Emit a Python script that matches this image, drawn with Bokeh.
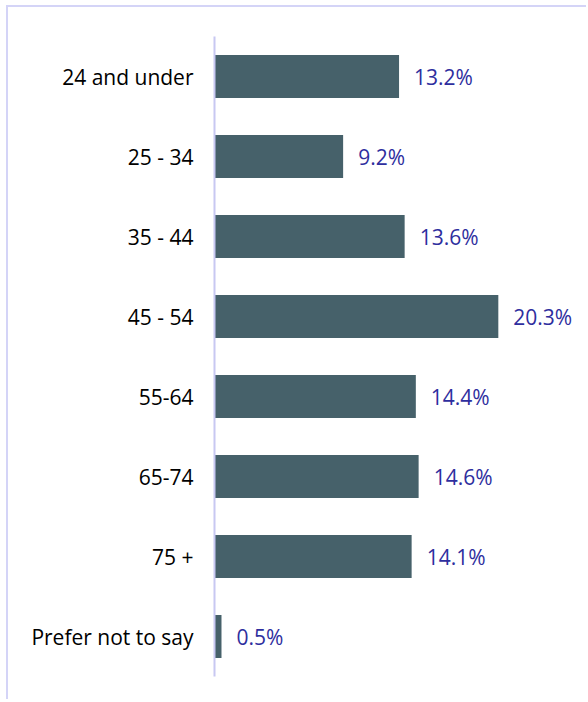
from bokeh.plotting import figure
from bokeh.models import ColumnDataSource, LabelSet, FactorRange, Range1d
from bokeh.core.properties import value
from bokeh.embed import file_html
from bokeh.resources import INLINE

categories = ["24 and under", "25 - 34", "35 - 44", "45 - 54", "55-64", "65-74", "75 +", "Prefer not to say"]
values = [13.2, 9.2, 13.6, 20.3, 14.4, 14.6, 14.1, 0.5]
labels = [f"{v:.1f}%" for v in values]

source = ColumnDataSource(data=dict(cat=categories, val=values, lab=labels))

p = figure(
    width=580, height=694,
    y_range=FactorRange(*reversed(categories)),
    x_range=Range1d(0, 26.75),
    output_backend="svg", toolbar_location=None,
    min_border_left=206, min_border_right=0,
    min_border_top=29, min_border_bottom=25,
)
p.styles = {"border-top": "2px solid #d4d4f7", "border-left": "2px solid #d4d4f7",
            "margin-top": "5px", "margin-left": "6px"}
p.outline_line_color = None
p.background_fill_color = "white"
p.border_fill_color = "white"

p.hbar(y="cat", right="val", left=0, height=0.54, source=source,
       fill_color="#46616A", line_color=None)

p.add_layout(LabelSet(x="val", y="cat", text="lab", source=source,
                      x_offset=15, text_baseline="middle", text_align="left",
                      text_font=value("Open Sans"), text_font_size="21px",
                      text_color="#2E2E9E"))

p.xaxis.visible = False
p.xgrid.visible = False
p.ygrid.visible = False
p.yaxis.axis_line_color = "#C8C8F2"
p.yaxis.axis_line_width = 2
p.yaxis.major_tick_line_color = None
p.yaxis.minor_tick_line_color = None
p.yaxis.major_label_standoff = 15
p.yaxis.major_label_text_font = "Open Sans"
p.yaxis.major_label_text_font_size = "21px"
p.yaxis.major_label_text_color = "#000000"
p.y_range.range_padding = 0

open("out.html", "w").write(file_html(p, INLINE))
